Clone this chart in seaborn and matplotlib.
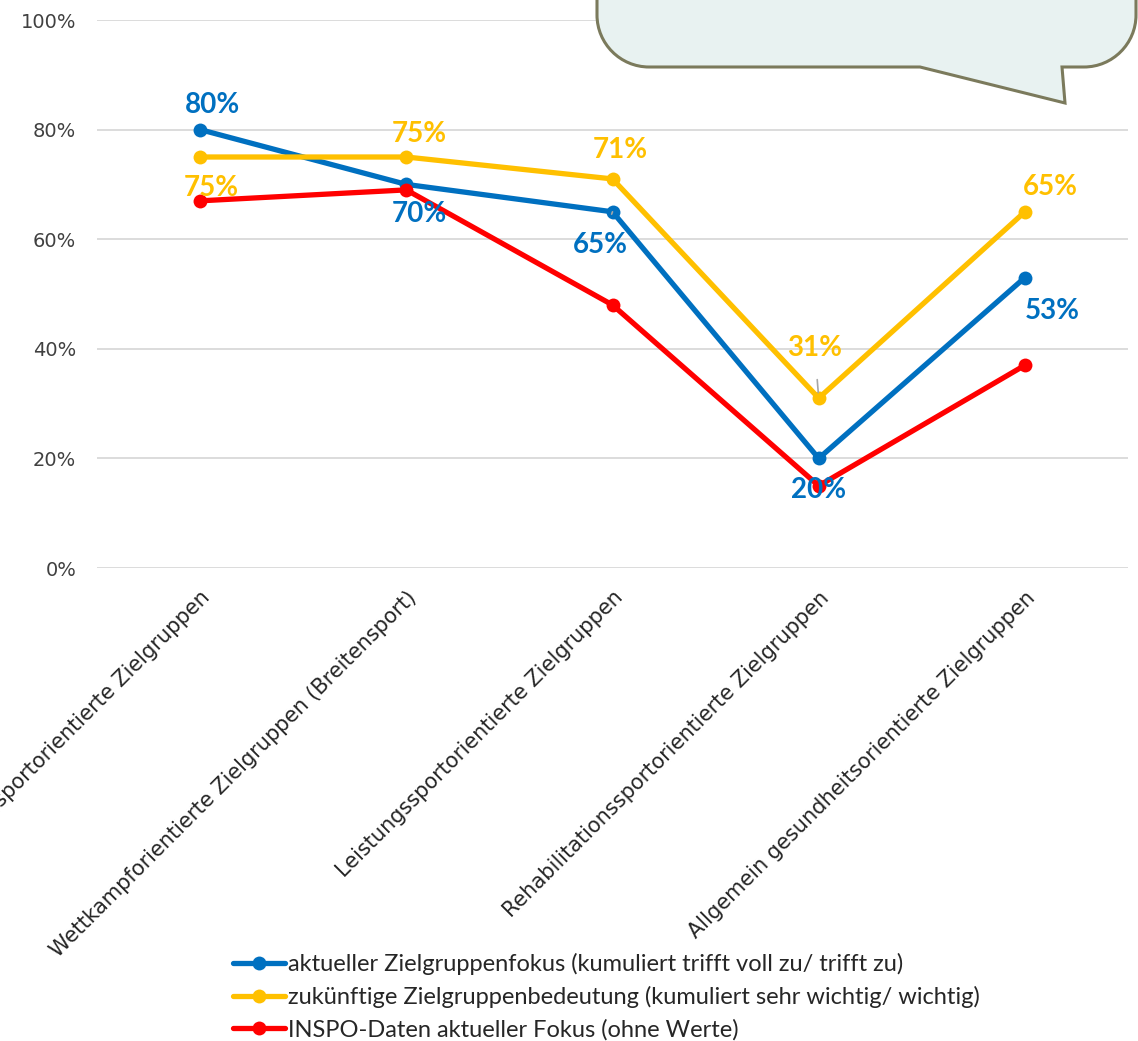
import matplotlib
matplotlib.use("Agg")
import matplotlib.pyplot as plt
from matplotlib.path import Path
from matplotlib.patches import PathPatch
import seaborn as sns
import pandas as pd

categories = [
    "Breitensportorientierte Zielgruppen",
    "Wettkampforientierte Zielgruppen (Breitensport)",
    "Leistungssportorientierte Zielgruppen",
    "Rehabilitationssportorientierte Zielgruppen",
    "Allgemein gesundheitsorientierte Zielgruppen",
]
series_names = [
    "aktueller Zielgruppenfokus (kumuliert trifft voll zu/ trifft zu)",
    "zukünftige Zielgruppenbedeutung (kumuliert sehr wichtig/ wichtig)",
    "INSPO-Daten aktueller Fokus (ohne Werte)",
]
aktuell = [80, 70, 65, 20, 53]
zukunft = [75, 75, 71, 31, 65]
inspo = [67, 69, 48, 15, 37]
colors = ["#0070C0", "#FFC000", "#FF0000"]
yticks = [0, 20, 40, 60, 80, 100]

rows = []
for name, vals in zip(series_names, [aktuell, zukunft, inspo]):
    for c, v in zip(categories, vals):
        rows.append({"Kategorie": c, "Wert": v, "Reihe": name})
df = pd.DataFrame(rows)

sns.set_style("white")
FONT = ["Lato", "DejaVu Sans"]
WIDE = ["DejaVu Sans"]
plt.rcParams["font.family"] = FONT

fig = plt.figure(figsize=(11.38, 10.41), dpi=100)
W, H = 1138, 1041
ax = fig.add_axes([97 / W, 1 - 568 / H, (1128 - 97) / W, (568 - 20) / H])

sns.lineplot(data=df, x="Kategorie", y="Wert", hue="Reihe", palette=colors,
             hue_order=series_names, sort=False, marker="o", markersize=10,
             markeredgewidth=0, linewidth=3.8, ax=ax, legend=True)

ax.set_xlim(-0.5, len(categories) - 0.5)
ax.set_ylim(0, 100)
ax.set_yticks(yticks)
ax.set_yticklabels([f"{t}%" for t in yticks], fontsize=14, color="#404040",
                   family=WIDE)
ax.yaxis.grid(True, color="#D9D9D9", linewidth=1.3)
ax.set_axisbelow(True)
ax.set_xlabel("")
ax.set_ylabel("")
for s in ax.spines.values():
    s.set_visible(False)
ax.tick_params(axis="y", length=0, pad=15)
ax.tick_params(axis="x", length=0, pad=14)
ax.set_xticks(range(len(categories)))
ax.set_xticklabels(categories, rotation=45, ha="right", va="top",
                   rotation_mode="anchor", fontsize=15, color="#262626",
                   family=WIDE)

# data labels (offsets in pixels)
lab_a = [(12, 25), (13, -30), (-12, -33), (0, -32), (27, -33)]
lab_z = [(11, -31), (13, 23), (8, 29), (-4, 50), (25, 25)]
for vals, offs, col in [(aktuell, lab_a, colors[0]), (zukunft, lab_z, colors[1])]:
    for i, (v, o) in enumerate(zip(vals, offs)):
        leader = None
        if (col == colors[0] and i == 2) or (col == colors[1] and i == 3):
            leader = dict(arrowstyle="-", color="#A6A6A6", lw=1.2, shrinkA=11, shrinkB=4)
        ax.annotate(f"{v}%", xy=(i, v), xytext=o, textcoords="offset pixels",
                    ha="center", va="center", fontsize=20, fontweight="bold",
                    color=col, arrowprops=leader, zorder=5)

leg = ax.get_legend()
handles = leg.legend_handles
leg.remove()
fig.legend(handles, series_names, loc="upper left",
           bbox_to_anchor=(212 / W, 1 - 932 / H), frameon=False, fontsize=17,
           handlelength=2.2, handletextpad=0.1, labelspacing=0.46,
           labelcolor="#262626")

# speech bubble (partially visible at the top)
ov = fig.add_axes([0, 0, 1, 1], zorder=10)
ov.set_xlim(0, W)
ov.set_ylim(H, 0)
ov.axis("off")
r = 52
L, R, B, T = 597, 1136, 67, -80
k = 0.55
verts = [
    (L, T), (L, B - r),
    (L, B - r + k * r), (L + r - k * r, B), (L + r, B),
    (920, B), (1065, 103), (1062, B), (R - r, B),
    (R - r + k * r, B), (R, B - r + k * r), (R, B - r),
    (R, T), (L, T),
]
codes = [Path.MOVETO, Path.LINETO,
         Path.CURVE4, Path.CURVE4, Path.CURVE4,
         Path.LINETO, Path.LINETO, Path.LINETO, Path.LINETO,
         Path.CURVE4, Path.CURVE4, Path.CURVE4,
         Path.LINETO, Path.CLOSEPOLY]
ov.add_patch(PathPatch(Path(verts, codes), facecolor="#E8F2F1",
                       edgecolor="#7B7A5C", linewidth=2.2))

fig.savefig("out.png", dpi=100)
